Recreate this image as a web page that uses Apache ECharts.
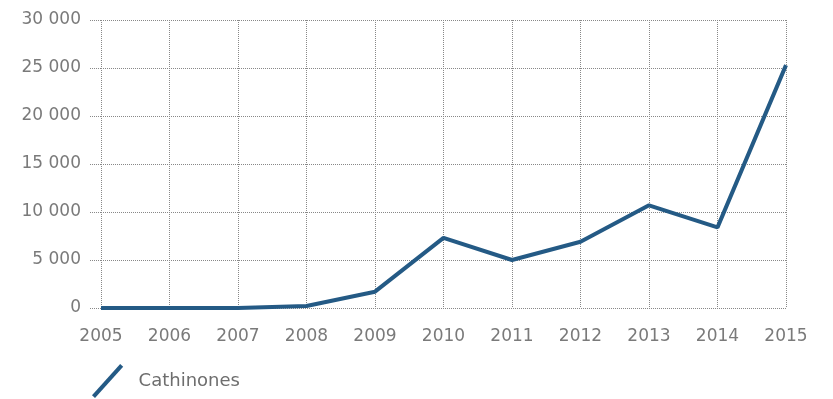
<!DOCTYPE html>
<html><head><meta charset="utf-8">
<script src="https://cdn.jsdelivr.net/npm/echarts@6/dist/echarts.min.js"></script>
<style>html,body{margin:0;padding:0;background:#fff}#c{width:833px;height:399px}</style>
</head><body><div id="c"></div>
<script>
const years = ['2005','2006','2007','2008','2009','2010','2011','2012','2013','2014','2015'];
const cathinones = [0, 0, 0, 200, 1700, 7300, 5000, 6900, 10700, 8400, 25300];
const seriesName = 'Cathinones';

const chart = echarts.init(document.getElementById('c'));
const fmt = v => String(v).replace(/\B(?=(\d{3})+(?!\d))/g, ' ');
const FONT = 'DejaVu Sans';
chart.setOption({
  animation: false,
  textStyle: {fontFamily: FONT},
  grid: {left: 101, right: 47, top: 20, bottom: 91, containLabel: false},
  legend: {
    left: 92, bottom: 1, padding: 0, itemWidth: 36, itemHeight: 34,
    data: [{name: seriesName, icon: 'path://M0,31 L28,0 L31,2.8 L3,33.8 Z'}],
    textStyle: {color: '#6e6e6e', fontSize: 18, fontFamily: FONT, padding: [0, 0, 0, 8]}
  },
  xAxis: {
    type: 'category', data: years, boundaryGap: false,
    axisLine: {show: false}, axisTick: {show: false},
    axisLabel: {color: '#7a7a7a', fontSize: 17, margin: 20},
    splitLine: {show: true, lineStyle: {type: 'dotted', color: '#888', width: 1}}
  },
  yAxis: {
    type: 'value', min: 0, max: 30000, interval: 5000,
    axisLine: {show: false},
    axisTick: {show: true, length: 11, lineStyle: {type: 'dotted', color: '#888', width: 1}},
    axisLabel: {color: '#7a7a7a', fontSize: 17, margin: 20, formatter: fmt},
    splitLine: {show: true, lineStyle: {type: 'dotted', color: '#888', width: 1}}
  },
  series: [{
    name: seriesName, type: 'line', data: cathinones,
    symbol: 'none', lineStyle: {color: '#245a85', width: 4},
    itemStyle: {color: '#245a85'}
  }]
});
</script></body></html>
